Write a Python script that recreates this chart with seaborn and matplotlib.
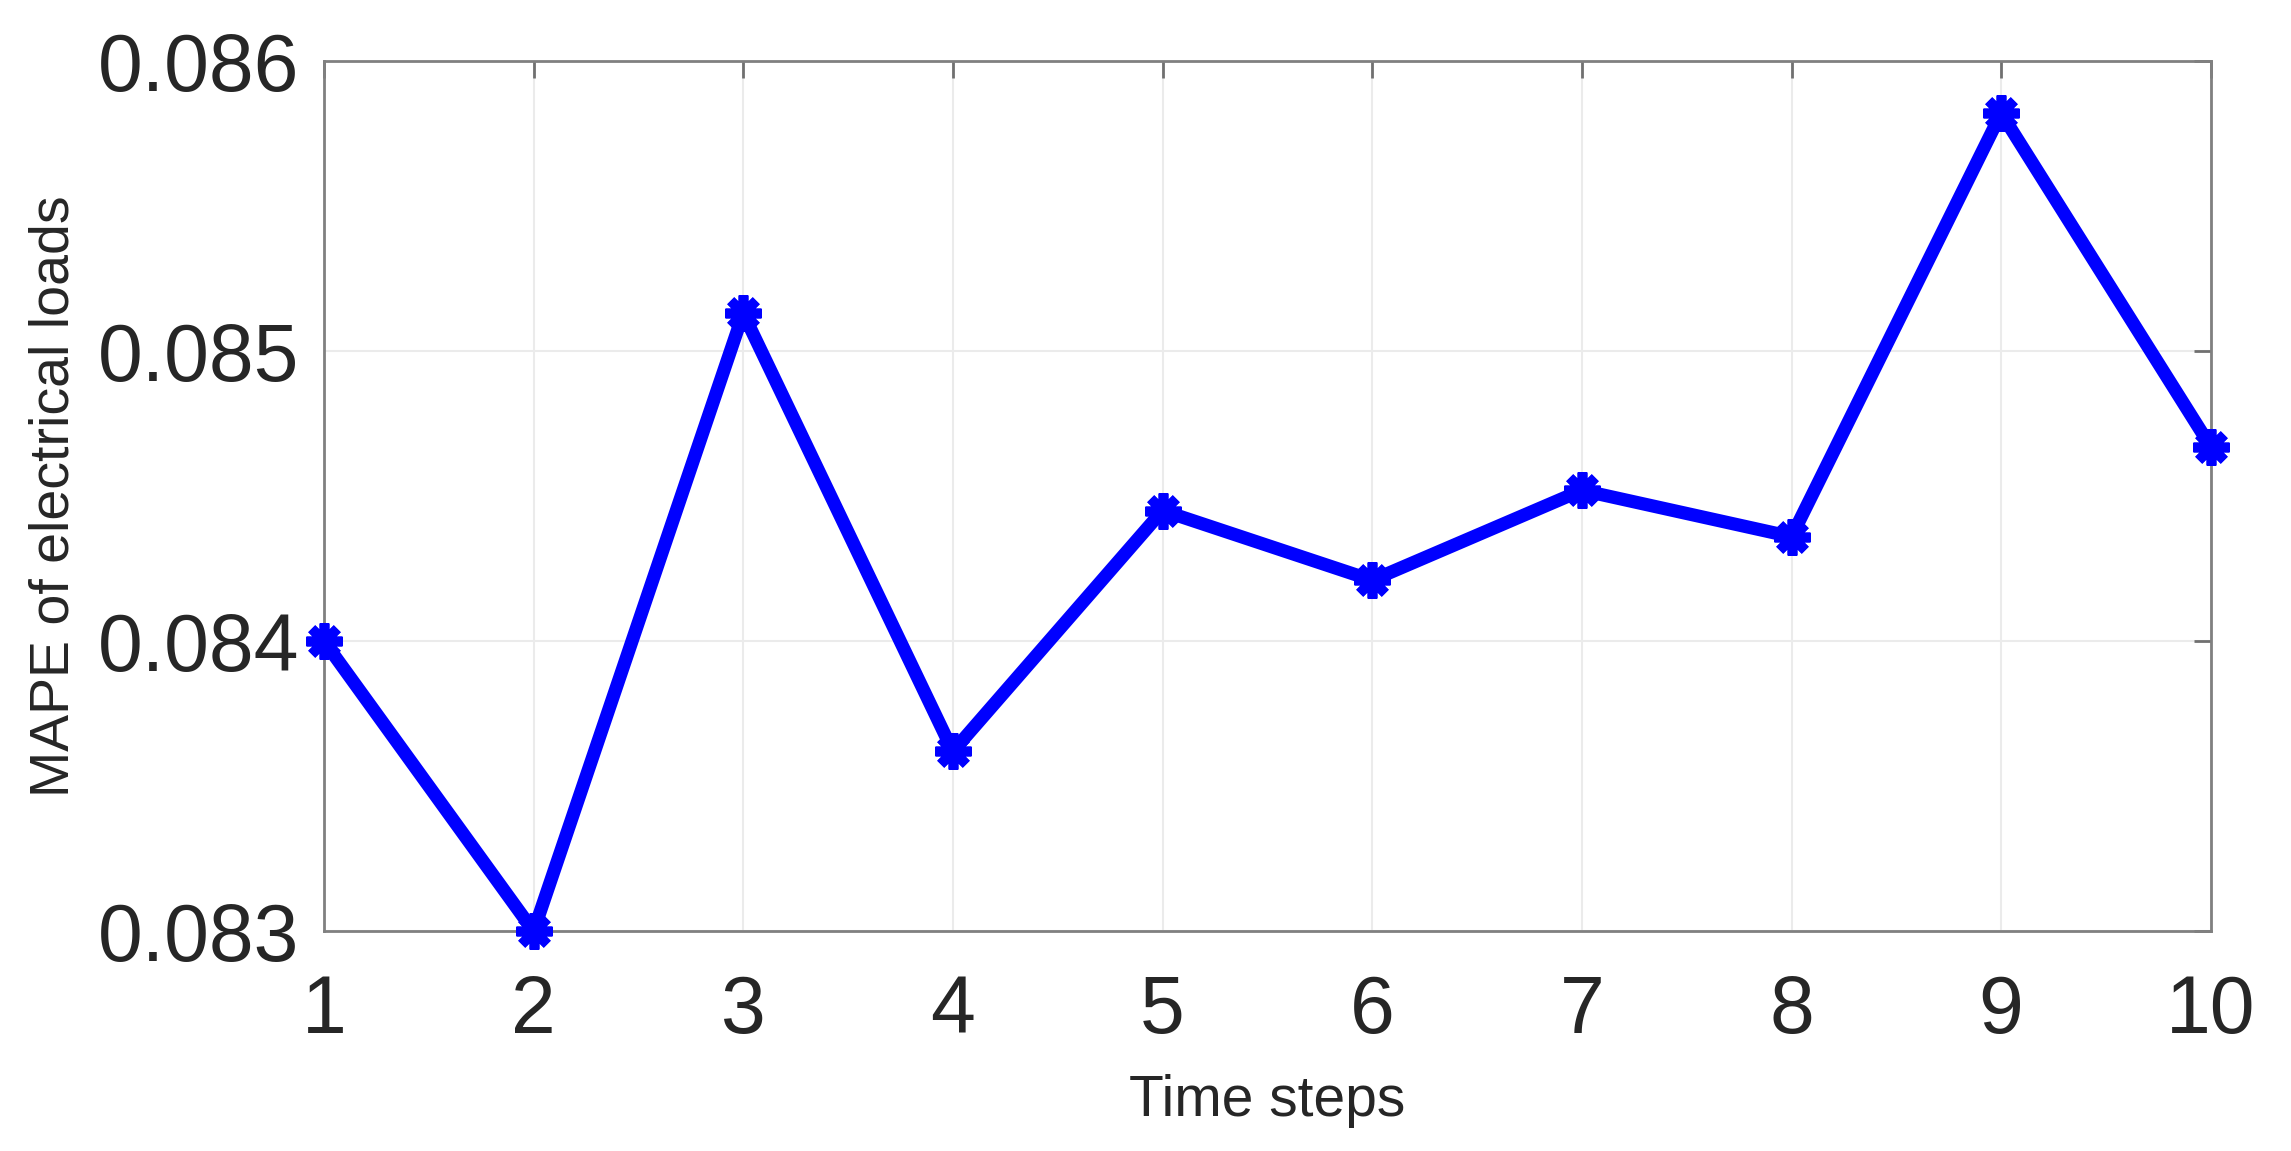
import numpy as np
import pandas as pd
import matplotlib
matplotlib.use("Agg")
import matplotlib.pyplot as plt
import seaborn as sns

time_steps = [1, 2, 3, 4, 5, 6, 7, 8, 9, 10]
mape_values = [0.08400, 0.08300, 0.08513, 0.08362, 0.08445,
               0.08421, 0.08452, 0.08436, 0.08582, 0.08467]
y_ticks = [0.083, 0.084, 0.085, 0.086]
y_tick_labels = ["0.083", "0.084", "0.085", "0.086"]

sns.set_style("whitegrid")
plt.rcParams["font.family"] = ["Liberation Sans", "DejaVu Sans"]

df = pd.DataFrame({"step": time_steps, "mape": mape_values})

fig = plt.figure(figsize=(22.91, 11.51), dpi=100)
ax = fig.add_axes([0.1414, 0.191, 0.8236, 0.756])

sns.lineplot(
    data=df, x="step", y="mape", ax=ax,
    color="#0000ff", linewidth=9.5,
    marker=(8, 2, 0), markersize=26, markeredgewidth=7,
    markeredgecolor="#0000ff", markerfacecolor="#0000ff",
    clip_on=False, zorder=5,
)

ax.set_xlim(1, 10)
ax.set_ylim(0.083, 0.086)
ax.set_xticks(time_steps)
ax.set_yticks(y_ticks)
ax.set_yticklabels(y_tick_labels)

ax.grid(True, color="#ebebeb", linewidth=1.5)
for side in ["left", "right", "top", "bottom"]:
    ax.spines[side].set_visible(True)
    ax.spines[side].set_color("#808080")
    ax.spines[side].set_linewidth(2)

ax.tick_params(axis="both", direction="in", length=12, width=2, color="#707070",
               labelsize=58, labelcolor="#262626",
               top=True, right=True)
ax.tick_params(axis="x", pad=31)
ax.tick_params(axis="y", pad=18)

ax.set_xlabel("Time steps", fontsize=41, color="#262626", labelpad=17)
ax.set_ylabel("MAPE of electrical loads", fontsize=40, color="#262626", labelpad=12)

fig.savefig("out.png", dpi=100, facecolor="white")
plt.close(fig)
